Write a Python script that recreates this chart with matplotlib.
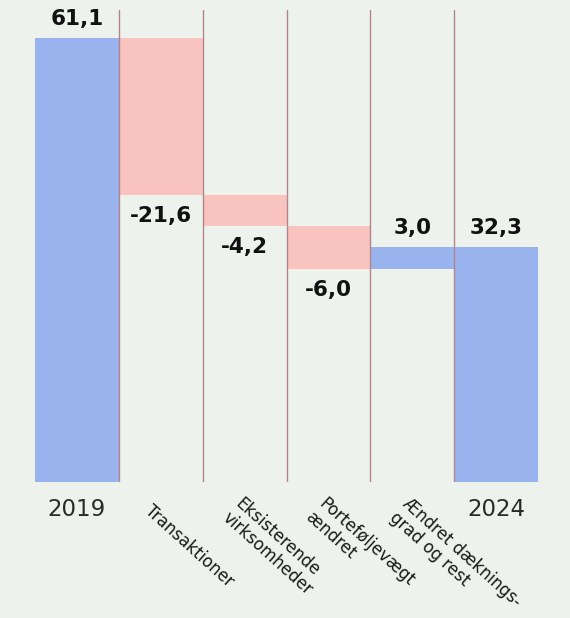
import matplotlib.pyplot as plt
import numpy as np

# data
categories = ["2019", "Transaktioner", "Eksisterende\nvirksomheder",
              "Porteføljevægt\nændret", "Ændret dæknings-\ngrad og rest", "2024"]
values = [61.1, -21.6, -4.2, -6.0, 3.0, 32.3]
is_total = [True, False, False, False, False, True]
value_labels = ["61,1", "-21,6", "-4,2", "-6,0", "3,0", "32,3"]

BG = '#edf3ec'
BLUE = '#99b3ef'
PINK = '#f9c4c0'
SEP = '#b3848c'

# waterfall bottoms
bottoms, heights = [], []
running = 0.0
for v, tot in zip(values, is_total):
    if tot:
        bottoms.append(0.0)
        heights.append(v)
        running = v
    else:
        bottoms.append(running if v >= 0 else running + v)
        heights.append(abs(v))
        running += v
colors = [BLUE if (tot or v >= 0) else PINK for v, tot in zip(values, is_total)]

fig = plt.figure(figsize=(5.7, 6.18), dpi=100)
fig.patch.set_facecolor(BG)
ax = fig.add_axes([35 / 570, 1 - 482 / 618, 503 / 570, 472 / 618])
ax.set_facecolor(BG)

x = np.arange(len(values))
ax.bar(x, heights, bottom=bottoms, width=1.0, color=colors, zorder=2)

# separators between categories
for b in x[:-1] + 0.5:
    ax.plot([b, b], [0, 65], color=SEP, lw=1, zorder=3)

ax.set_xlim(-0.5, len(values) - 0.5)
ax.set_ylim(0, 65)
for s in ax.spines.values():
    s.set_visible(False)
ax.set_xticks([])
ax.set_yticks([])

# value labels
for i, (v, b, h, lab) in enumerate(zip(values, bottoms, heights, value_labels)):
    if v >= 0:
        ax.annotate(lab, (i, b + h), xytext=(0, 14), textcoords='offset points',
                    ha='center', va='center', fontsize=15.5, fontweight='bold', color='#111111')
    else:
        ax.annotate(lab, (i, b), xytext=(0, -15), textcoords='offset points',
                    ha='center', va='center', fontsize=15.5, fontweight='bold', color='#111111')

# category labels (rotated ones drawn line by line)
ang = np.deg2rad(42)
lh = 14.0
for i, (cat, tot) in enumerate(zip(categories, is_total)):
    if tot:
        ax.annotate(cat, (i, 0), xytext=(0, -20), textcoords='offset points',
                    ha='center', va='center', fontsize=16.5, color='#2a2a2a',
                    annotation_clip=False)
        continue
    lines = cat.split('\n')
    n = len(lines)
    for k, line in enumerate(lines):
        d = (k - (n - 1) / 2) * lh
        ox = -np.sin(ang) * d
        oy = -19 - np.cos(ang) * d
        ax.annotate(line, (i - 0.16, 0), xytext=(ox, oy), textcoords='offset points',
                    ha='left', va='center', rotation=-42, rotation_mode='anchor',
                    fontsize=12, color='#1a1a1a', annotation_clip=False)

fig.savefig('out.png', dpi=100, facecolor=BG)
